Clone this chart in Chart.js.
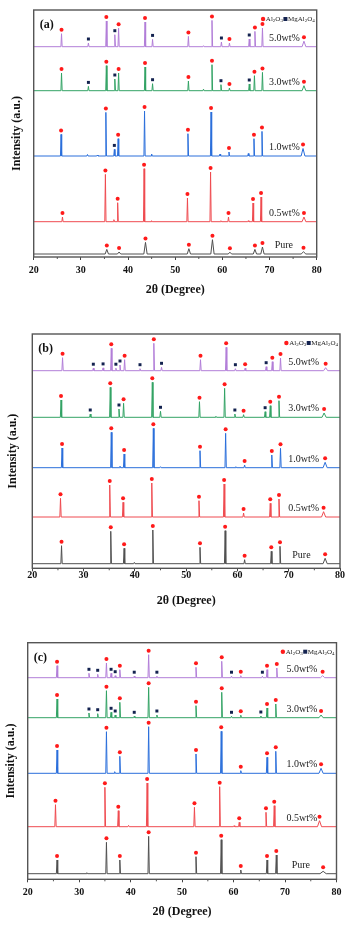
<!DOCTYPE html>
<html>
<head>
<meta charset="utf-8">
<script src="https://cdn.jsdelivr.net/npm/chart.js@4.4.1/dist/chart.umd.min.js"></script>
<style>
  html, body { margin: 0; padding: 0; background: #fff; }
  .panel { position: absolute; left: 0; width: 351px; }
</style>
</head>
<body>
<div class="panel" style="top:0;height:305px"><canvas id="chartA"></canvas></div>
<div class="panel" style="top:305px;height:310px"><canvas id="chartB"></canvas></div>
<div class="panel" style="top:615px;height:310px"><canvas id="chartC"></canvas></div>
<script>
// samples, bottom to top
const samples = ['Pure', '0.5wt%', '1.0wt%', '3.0wt%', '5.0wt%'];
const xTicks = [20, 30, 40, 50, 60, 70, 80];
const minorTicks = [25, 35, 45, 55, 65, 75];

// peaks: [2theta, intensity above baseline, phase ('A' = Al2O3, 'S' = MgAl2O4, '' = none), half width]
// panel (a)
const offsetsA = [3, 35.3, 101, 166.3, 210.3];
const peaksA_pure = [[35.5, 4.6, 'A', 0.35], [38.1, 2, 'A', 0.35], [43.7, 11.6, 'A', 0.35], [52.9, 5.3, 'A', 0.35], [57.9, 14.3, 'A', 0.35], [61.6, 1.8, 'A', 0.35], [66.9, 4.6, 'A', 0.35], [68.5, 7, 'A', 0.35], [77.2, 2.2, 'A', 0.5]];
const peaksA_05 = [[26.1, 4.7, 'A'], [35.2, 47.3, 'A'], [37.0, 2, ''], [37.8, 19, 'A'], [43.4, 53, 'A'], [45.0, 1, ''], [52.6, 23.7, 'A'], [57.5, 49.7, 'A'], [59.7, 1, ''], [61.3, 4.7, 'A'], [65.5, 1, ''], [66.5, 18.7, 'A'], [68.2, 24.7, 'A'], [77.3, 4.7, 'A', 0.4]];
const peaksA_10 = [[25.8, 21.6, 'A'], [31.4, 1.5, ''], [33.5, 1, ''], [35.3, 43.6, 'A'], [37.1, 6.6, 'S'], [37.9, 17.3, 'A'], [43.5, 45, 'A'], [45.0, 2, ''], [52.7, 22.3, 'A'], [57.6, 44, 'A'], [59.5, 2, ''], [61.4, 4, 'A'], [65.5, 2.5, ''], [66.7, 17.3, 'A'], [68.4, 24.6, 'A'], [77.1, 7.5, 'A', 0.4]];
const peaksA_30 = [[25.9, 17.7, 'A'], [31.6, 4.3, 'S'], [35.4, 25, 'A'], [37.2, 11.7, 'S'], [38.0, 17.7, 'A'], [43.6, 23.7, 'A'], [45.2, 7, 'S'], [52.8, 9.7, 'A'], [56.0, 1.5, ''], [57.8, 26, 'A'], [59.7, 6, 'S'], [61.5, 2.7, 'A'], [65.7, 6.7, 'S'], [66.8, 15, 'A'], [68.5, 18.3, 'A'], [77.3, 5, 'A', 0.4]];
const peaksA_50 = [[25.9, 13, 'A'], [31.6, 3.7, 'S'], [35.4, 25.7, 'A'], [37.2, 12, 'S'], [38.0, 18.5, 'A'], [43.6, 24.7, 'A'], [45.2, 7.3, 'S'], [52.8, 10.3, 'A'], [56.0, 1, ''], [57.8, 26.3, 'A'], [59.8, 4.7, 'S'], [61.5, 3.7, 'A'], [65.7, 7.7, 'S'], [66.9, 15.3, 'A'], [68.5, 18.7, 'A'], [77.3, 5.5, 'A', 0.4]];

// panel (b)
const offsetsB = [4.6, 51.3, 100.6, 151, 197.6];
const peaksB_pure = [[25.7, 18, 'A'], [35.3, 32.4, 'A'], [37.9, 15.4, 'A'], [39.9, 1.3, ''], [43.5, 33.7, 'A'], [52.7, 16.4, 'A'], [57.6, 33, 'A'], [61.4, 4, 'A'], [66.6, 12.4, 'A'], [68.3, 17.4, 'A'], [77.1, 5.4, 'A', 0.4]];
const peaksB_05 = [[25.5, 18.7, 'A'], [35.1, 32, 'A'], [37.7, 14.7, 'A'], [43.3, 34, 'A'], [52.5, 16.3, 'A'], [57.4, 33, 'A'], [61.2, 4, 'A'], [66.4, 13.7, 'A'], [68.1, 18, 'A'], [76.8, 5.3, 'A', 0.4]];
const peaksB_10 = [[25.8, 19.7, 'A'], [35.4, 35.4, 'A'], [37.1, 1.5, ''], [37.9, 13.7, 'A'], [43.6, 39.4, 'A'], [45.0, 1, ''], [52.7, 17, 'A'], [57.7, 34.4, 'A'], [59.7, 1, ''], [61.4, 2.7, 'A'], [66.7, 12.7, 'A'], [68.4, 19.4, 'A'], [77.1, 5.4, 'A', 0.4]];
const peaksB_30 = [[25.6, 17.3, 'A'], [31.3, 3.3, 'S'], [35.2, 30, 'A'], [36.9, 8.3, 'S'], [37.8, 14, 'A'], [43.4, 35, 'A'], [45.0, 6, 'S'], [52.6, 15.6, 'A'], [55.8, 1, ''], [57.5, 29, 'A'], [59.5, 3.3, 'S'], [61.2, 2.6, 'A'], [65.4, 5.6, 'S'], [66.4, 11.6, 'A'], [68.1, 16.6, 'A'], [76.9, 4.3, 'A', 0.4]];
const peaksB_50 = [[25.9, 13, 'A'], [31.9, 2.5, 'S'], [33.8, 2.8, 'S'], [35.4, 22.4, 'A'], [36.3, 2.5, 'S'], [37.1, 5.7, 'S'], [38.0, 11, 'A'], [41.0, 2, 'S'], [43.7, 27.4, 'A'], [45.2, 3.4, 'S'], [52.8, 11, 'A'], [57.8, 23.4, 'A'], [59.6, 2, 'S'], [61.5, 2.5, 'A'], [65.6, 4, 'S'], [66.8, 9, 'A'], [68.4, 12.7, 'A'], [77.2, 3, 'A', 0.4]];

// panel (c)
const offsetsC = [5.6, 52.6, 106, 161.6, 201.6];
const peaksC_pure = [[25.7, 13.7, 'A'], [31.5, 1, ''], [35.3, 31.4, 'A'], [37.9, 13.7, 'A'], [43.5, 37.4, 'A'], [52.7, 17, 'A'], [57.6, 34, 'A'], [61.4, 3.7, 'A'], [66.5, 13.7, 'A'], [68.3, 18.7, 'A'], [77.4, 2.4, 'A', 0.6]];
const peaksC_05 = [[25.4, 22, 'A'], [35.0, 39.4, 'A'], [37.6, 16, 'A'], [39.6, 1.3, ''], [43.2, 43.7, 'A'], [52.4, 19.4, 'A'], [57.3, 40, 'A'], [60.1, 1, ''], [61.1, 4.4, 'A'], [66.3, 14.4, 'A'], [67.9, 21, 'A'], [76.7, 6, 'A', 0.4]];
const peaksC_10 = [[25.7, 23.3, 'A'], [35.3, 41.6, 'A'], [36.9, 1.6, ''], [37.9, 17, 'A'], [43.5, 46.6, 'A'], [52.7, 19.3, 'A'], [57.6, 42, 'A'], [61.4, 2.6, 'A'], [66.5, 16, 'A'], [68.2, 22, 'A'], [77.0, 5, 'A', 0.4]];
const peaksC_30 = [[25.7, 18.7, 'A'], [31.9, 4.7, 'S'], [33.6, 4, 'S'], [35.3, 27, 'A'], [36.2, 5.4, 'S'], [37.0, 2.7, 'S'], [37.9, 15.4, 'A'], [40.7, 1.4, 'S'], [43.5, 30.4, 'A'], [45.1, 2.7, 'S'], [52.7, 12, 'A'], [57.7, 25.4, 'A'], [59.6, 1.4, 'S'], [61.4, 2.5, 'A'], [65.3, 1.7, 'S'], [66.5, 9.7, 'A'], [68.2, 13.7, 'A'], [77.0, 2.7, 'A', 0.4]];
const peaksC_50 = [[25.7, 12, 'A'], [31.9, 4.4, 'S'], [33.6, 3.4, 'S'], [35.3, 14.7, 'A'], [36.2, 4.4, 'S'], [37.0, 2, 'S'], [37.9, 8, 'A'], [40.7, 1.5, 'S'], [43.5, 23, 'A'], [45.1, 1.5, 'S'], [52.7, 10.4, 'A'], [57.7, 16.4, 'A'], [59.6, 1.5, 'S'], [61.4, 2, 'A'], [65.6, 1.5, 'S'], [66.5, 8, 'A'], [68.4, 9.7, 'A'], [77.3, 2, 'A', 0.4]];

const lineColors = ['#505050', '#ef4b50', '#2b6fdb', '#33a365', '#b27ed8'];
const FONT = "'Liberation Serif', 'Times New Roman', serif";
const MARK_GAP = 4;

// layout of each panel inside its canvas (px)
const panels = [
  { id: 'chartA', tag: '(a)', offsets: offsetsA, peaks: [peaksA_pure, peaksA_05, peaksA_10, peaksA_30, peaksA_50],
    ymax: 247, H: 305, box: { l: 33.7, r: 316.7, t: 10, b: 257 }, tickPad: 4, yTitleX: 17, labelX: [71.1, 69.9, 69.9, 69.9, 69.9] },
  { id: 'chartB', tag: '(b)', offsets: offsetsB, peaks: [peaksB_pure, peaksB_05, peaksB_10, peaksB_30, peaksB_50],
    ymax: 234.3, H: 310, box: { l: 32.3, r: 340, t: 29, b: 263.3 }, tickPad: -2, yTitleX: 13, labelX: [70.7, 69.9, 69.9, 69.9, 69.9] },
  { id: 'chartC', tag: '(c)', offsets: offsetsC, peaks: [peaksC_pure, peaksC_05, peaksC_10, peaksC_30, peaksC_50],
    ymax: 236.6, H: 310, box: { l: 27.7, r: 336.5, t: 27.7, b: 264.3 }, tickPad: 4, yTitleX: 11, labelX: [71.3, 70.3, 70.3, 70.3, 70.3] }
];

function traceData(peaks, base) {
  const pts = [{ x: 20, y: base }];
  peaks.forEach(p => {
    const w = p[3] || 0.13;
    pts.push({ x: p[0] - w, y: base }, { x: p[0], y: base + p[1] }, { x: p[0] + w, y: base });
  });
  pts.push({ x: 80, y: base });
  return pts;
}

function markers(p, phase) {
  const out = [];
  p.peaks.forEach((list, i) => {
    list.filter(k => k[2] === phase).forEach(k => out.push({ x: k[0], y: p.offsets[i] + k[1] + MARK_GAP }));
  });
  return out;
}

function drawLegend(ctx, right, y) {
  const parts = [
    ['dot'], ['t', 'Al'], ['s', '2'], ['t', 'O'], ['s', '3'],
    ['sq'], ['t', 'MgAl'], ['s', '2'], ['t', 'O'], ['s', '4']
  ];
  const main = '7px ' + FONT, sub = '5px ' + FONT;
  let width = 0;
  parts.forEach(q => {
    if (q[0] === 'dot' || q[0] === 'sq') width += 5;
    else { ctx.font = q[0] === 't' ? main : sub; width += ctx.measureText(q[1]).width; }
  });
  let x = right - width;
  ctx.textAlign = 'left';
  ctx.textBaseline = 'middle';
  parts.forEach(q => {
    if (q[0] === 'dot') {
      ctx.fillStyle = '#ff1a1a';
      ctx.beginPath(); ctx.arc(x + 2.2, y, 2.2, 0, Math.PI * 2); ctx.fill();
      x += 5;
    } else if (q[0] === 'sq') {
      ctx.fillStyle = '#13224f';
      ctx.fillRect(x + 0.5, y - 2, 4, 4);
      x += 5;
    } else {
      ctx.fillStyle = '#222';
      ctx.font = q[0] === 't' ? main : sub;
      ctx.fillText(q[1], x, q[0] === 't' ? y : y + 2);
      x += ctx.measureText(q[1]).width;
    }
  });
}

function makeDecor(p) {
  return {
    id: 'decor',
    afterDraw(chart) {
      const { ctx, chartArea: a, scales: { x, y } } = chart;
      ctx.save();
      ctx.strokeStyle = '#555';
      ctx.lineWidth = 1.4;
      ctx.strokeRect(a.left, a.top, a.right - a.left, a.bottom - a.top);
      ctx.lineWidth = 1;
      ctx.beginPath();
      minorTicks.forEach(v => {
        const px = x.getPixelForValue(v);
        ctx.moveTo(px, a.bottom); ctx.lineTo(px, a.bottom + 2);
      });
      ctx.stroke();

      // panel tag
      ctx.fillStyle = '#111';
      ctx.font = 'bold 12px ' + FONT;
      ctx.textAlign = 'left';
      ctx.textBaseline = 'middle';
      ctx.fillText(p.tag, a.left + 6, a.top + 15);

      drawLegend(ctx, a.right - 2, a.top + 9);

      // sample labels
      ctx.font = '10px ' + FONT;
      ctx.fillStyle = '#222';
      ctx.textAlign = 'left';
      samples.forEach((s, i) => {
        ctx.fillText(s, x.getPixelForValue(p.labelX[i]), y.getPixelForValue(p.offsets[i] + 8.5));
      });

      // axis titles
      ctx.font = 'bold 12px ' + FONT;
      ctx.fillStyle = '#111';
      ctx.textAlign = 'center';
      ctx.fillText('2\u03b8 (Degree)', (a.left + a.right) / 2, a.bottom + 32.5);
      ctx.translate(p.yTitleX, (a.top + a.bottom) / 2);
      ctx.rotate(-Math.PI / 2);
      ctx.fillText('Intensity (a.u.)', 0, 0);
      ctx.restore();
    }
  };
}

panels.forEach(p => {
  const datasets = [
    { type: 'scatter', data: markers(p, 'A'), pointStyle: 'circle', pointRadius: 2, pointBackgroundColor: '#ff1a1a', pointBorderWidth: 0, order: 0, clip: false },
    { type: 'scatter', data: markers(p, 'S'), pointStyle: 'rect', pointRadius: 2.1, pointBackgroundColor: '#13224f', pointBorderWidth: 0, order: 0, clip: false }
  ];
  p.peaks.forEach((list, i) => {
    datasets.push({
      type: 'line', label: samples[i], data: traceData(list, p.offsets[i]),
      borderColor: lineColors[i], borderWidth: 1, pointRadius: 0, tension: 0, fill: false, order: 1
    });
  });

  new Chart(document.getElementById(p.id), {
    type: 'line',
    data: { datasets },
    options: {
      responsive: true,
      maintainAspectRatio: false,
      animation: false,
      parsing: false,
      layout: { autoPadding: false, padding: { left: p.box.l, right: 351 - p.box.r, top: p.box.t, bottom: 0 } },
      plugins: { legend: { display: false }, tooltip: { enabled: false } },
      scales: {
        x: {
          type: 'linear', min: 20, max: 80,
          afterBuildTicks: s => { s.ticks = xTicks.map(v => ({ value: v })); },
          ticks: { font: { family: FONT, size: 10, weight: 'bold' }, color: '#111', padding: p.tickPad, maxRotation: 0 },
          grid: { display: true, drawOnChartArea: false, tickLength: 3, tickColor: '#444', tickWidth: 1 },
          border: { display: false },
          afterFit: s => { s.height = p.H - p.box.b; }
        },
        y: { type: 'linear', min: 0, max: p.ymax, display: false }
      }
    },
    plugins: [makeDecor(p)]
  });
});
</script>
</body>
</html>
